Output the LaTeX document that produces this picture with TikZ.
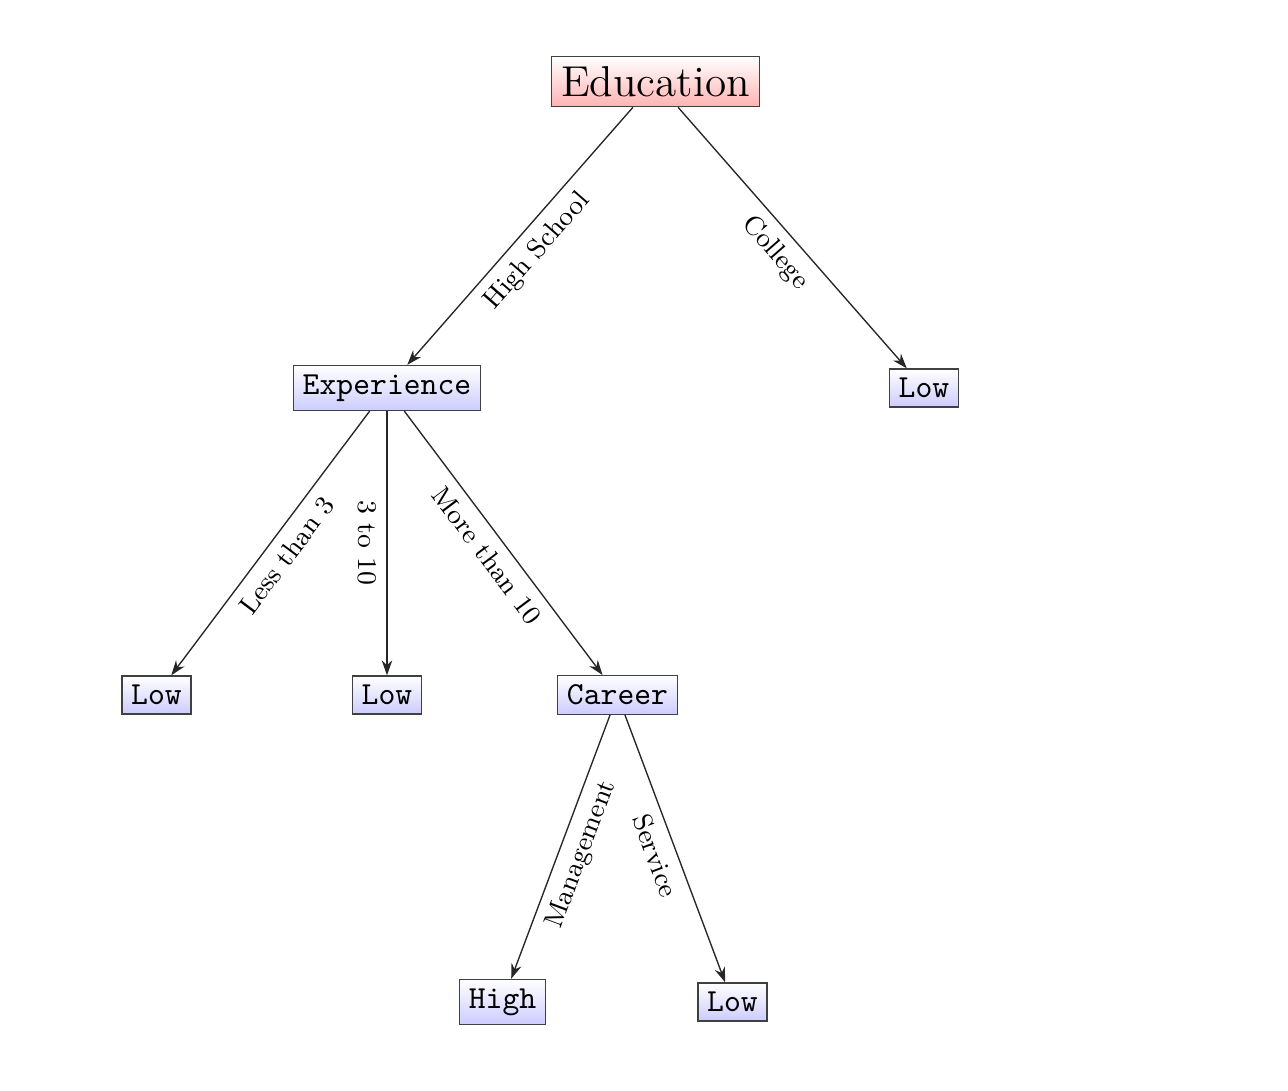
\documentclass[tikz,border=0pt]{standalone}
\usetikzlibrary{arrows.meta}
\begin{document}
\begin{tikzpicture}[x=0.33333pt, y=-0.33333pt,
  leafbox/.style={draw=black!75, top color=white, bottom color=blue!20, font=\fontsize{10.7}{13}\selectfont\ttfamily, inner sep=3.05pt},
  rootbox/.style={draw=black!75, top color=white, bottom color=red!30, font=\fontsize{14.4}{17}\selectfont, inner sep=3.33pt},
  edge/.style={-{Stealth[length=5pt,width=3.5pt]}, draw=black!85, line width=0.45pt},
  lblfont/.style={font=\fontsize{9}{11}\selectfont},
  lbl/.style={midway, sloped, below, lblfont}]
\useasboundingbox (0,0) rectangle (1288,1090);
\node[rootbox] (edu) at (655.5,81.5) {Education};
\node[leafbox] (exp) at (387,388) {Experience};
\node[leafbox] (low0) at (924,388) {Low};
\node[leafbox] (low1) at (156.5,695) {Low};
\node[leafbox] (low2) at (387,695) {Low};
\node[leafbox] (car) at (617.5,695) {Career};
\node[leafbox] (high) at (502.5,1002) {High};
\node[leafbox] (low3) at (732.5,1002) {Low};
\draw[edge] (edu) -- node[lbl] {High School} (exp);
\draw[edge] (edu) -- node[lbl] {College} (low0);
\draw[edge] (exp) -- node[lbl] {Less than 3} (low1);
\draw[edge] (exp) -- node[midway, rotate=-90, below, lblfont] {3 to 10} (low2);
\draw[edge] (exp) -- node[lbl] {More than 10} (car);
\draw[edge] (car) -- node[lbl] {Management} (high);
\draw[edge] (car) -- node[lbl] {Service} (low3);
\end{tikzpicture}
\end{document}
